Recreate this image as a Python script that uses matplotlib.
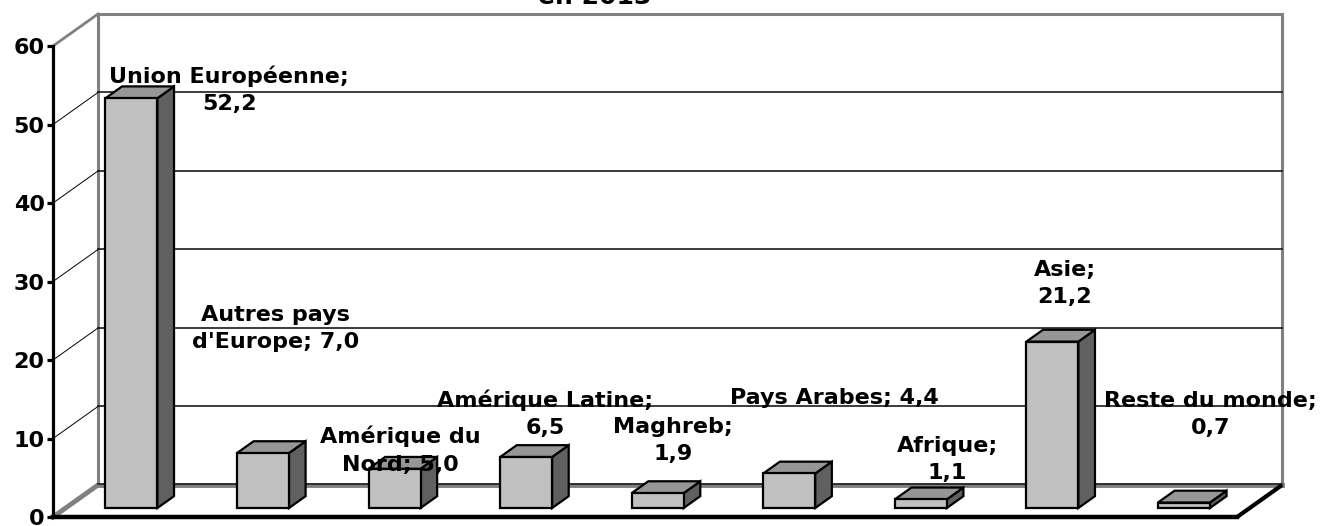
import numpy as np
import matplotlib
matplotlib.use("Agg")
import matplotlib.pyplot as plt
from matplotlib.patches import Polygon, Rectangle

# data
categories = ["Union Européenne", "Autres pays\nd'Europe", "Amérique du\nNord",
              "Amérique Latine", "Maghreb", "Pays Arabes", "Afrique", "Asie",
              "Reste du monde"]
values = [52.2, 7.0, 5.0, 6.5, 1.9, 4.4, 1.1, 21.2, 0.7]
label_texts = ["Union Européenne;\n52,2", "Autres pays\nd'Europe; 7,0",
               "Amérique du\nNord; 5,0", "Amérique Latine;\n6,5", "Maghreb;\n1,9",
               "Pays Arabes; 4,4", "Afrique;\n1,1", "Asie;\n21,2",
               "Reste du monde;\n0,7"]
yticks = [0, 10, 20, 30, 40, 50, 60]
title = "en 2013"

# layout (data coords: x = category index, y = value)
label_xy = [(0.84, 54.4), (1.19, 24.0), (2.14, 8.5), (3.24, 13.2), (4.21, 9.75),
            (5.44, 15.2), (6.30, 7.3), (7.19, 29.75), (8.30, 13.1)]
DX, DY = 0.342, 4.08          # depth of the floor / walls
F0, FD = 0.28, 0.37           # bar front position and bar depth (fraction of DX/DY)
W = 0.395                     # bar width
YMAX = 60
FRONT, SIDE, TOP = "#c0c0c0", "#606060", "#969696"
WALL = "#808080"

plt.rcParams["font.family"] = ["DejaVu Sans"]
plt.rcParams["font.weight"] = "bold"

fig = plt.figure(figsize=(13.23, 5.26), dpi=100)
ax = fig.add_axes([0, 0, 1, 1])
ax.set_xlim(-0.903, 9.153)
ax.set_ylim(-1.146, 65.86)

x0, x1 = -0.5, len(values) - 0.5

# back wall and side wall
ax.add_patch(Rectangle((x0 + DX, DY), x1 - x0, YMAX, fill=False, ec=WALL, lw=2.2, zorder=1))
for t in yticks[1:-1]:
    ax.plot([x0 + DX, x1 + DX], [t + DY, t + DY], color="#1a1a1a", lw=1.2, zorder=1)
    ax.plot([x0, x0 + DX], [t, t + DY], color="black", lw=0.7, zorder=1)
ax.plot([x0, x0 + DX], [YMAX, YMAX + DY], color=WALL, lw=2, zorder=1)

# floor
ax.plot([x0 + DX, x1 + DX], [DY, DY], color=WALL, lw=3.5, zorder=1.5)
ax.plot([x0 + DX, x1 + DX], [DY + 0.15, DY + 0.15], color="#222222", lw=1.2, zorder=1.6)
ax.plot([x0, x0 + DX], [0, DY], color=WALL, lw=3.5, zorder=1.5)
ax.plot([x1, x1 + DX], [0, DY], color="black", lw=3, zorder=2, solid_capstyle="butt")
ax.plot([x0, x1], [0, 0], color="black", lw=3.2, zorder=2)

# bars
for i, v in enumerate(values):
    left = i - W / 2 + F0 * DX
    right = left + W
    bot = F0 * DY
    top = bot + v
    dx, dy = FD * DX, FD * DY
    ax.add_patch(Polygon([(right, bot), (right + dx, bot + dy), (right + dx, top + dy),
                          (right, top)], closed=True, fc=SIDE, ec="black", lw=1.6,
                         joinstyle="miter", zorder=3))
    ax.add_patch(Polygon([(left, top), (right, top), (right + dx, top + dy),
                          (left + dx, top + dy)], closed=True, fc=TOP, ec="black", lw=1.6,
                         joinstyle="miter", zorder=3))
    ax.bar(left, v, width=W, bottom=bot, align="edge", color=FRONT,
           edgecolor="black", linewidth=1.6, zorder=3.5)

# data labels
for (lx, ly), txt in zip(label_xy, label_texts):
    ax.text(lx, ly, txt, ha="center", va="center", multialignment="center",
            fontsize=16, fontweight="bold", linespacing=1.45, zorder=5)

# y axis
for s in ["top", "right", "bottom"]:
    ax.spines[s].set_visible(False)
ax.spines["left"].set_position(("data", x0))
ax.spines["left"].set_bounds(0, YMAX)
ax.spines["left"].set_linewidth(2.3)
ax.spines["left"].set_zorder(4)
ax.set_yticks(yticks)
ax.set_yticklabels([str(t) for t in yticks])
ax.tick_params(axis="y", direction="out", length=4.5, width=2.3, pad=1.5,
               labelsize=16)
for lab in ax.get_yticklabels():
    lab.set_fontweight("bold")
ax.set_xticks([])

# title: only its last line peeks in at the top edge
fig.text(595 / 1323, 1 - 4 / 526, title, ha="center", va="baseline",
         fontsize=18, fontweight="bold")

fig.savefig("out.png", dpi=100, facecolor="white")
